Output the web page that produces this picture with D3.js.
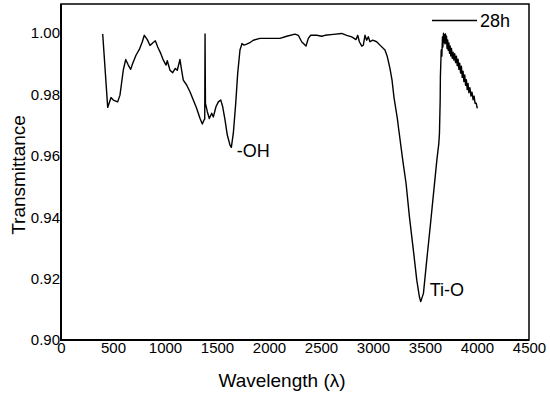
<!DOCTYPE html>
<html>
<head>
<meta charset="utf-8">
<script src="https://cdn.jsdelivr.net/npm/d3@7"></script>
<style>
  body { margin: 0; background: #fff; }
  svg { display: block; font-family: Arial, "Liberation Sans", sans-serif; }
</style>
</head>
<body>
<svg id="chart" width="550" height="394"></svg>
<script>
// wavelength values
const wavelength = [
  401, 449, 481, 503, 545, 567, 599, 622, 647, 670, 689, 721, 753, 782, 801,
  830, 856, 881, 907, 930, 959, 984, 1010, 1022, 1048, 1074, 1099, 1118, 1144,
  1160, 1176, 1208, 1240, 1272, 1304, 1337, 1359, 1375, 1382, 1385, 1389, 1407,
  1426, 1449, 1465, 1490, 1513, 1536, 1555, 1577, 1599, 1625, 1638, 1657, 1680,
  1699, 1721, 1740, 1760, 1785, 1811, 1849, 1913, 2010, 2106, 2170, 2250, 2282,
  2314, 2356, 2378, 2401, 2459, 2507, 2538, 2619, 2699, 2747, 2795, 2837, 2853,
  2869, 2892, 2907, 2923, 2939, 2955, 2971, 2997, 3035, 3067, 3115, 3138, 3163,
  3183, 3202, 3234, 3244, 3286, 3318, 3350, 3388, 3421, 3446, 3459, 3485, 3517,
  3550, 3582, 3614, 3633, 3639, 3646, 3648, 3656, 3662, 3668, 3672, 3678, 3683,
  3688, 3692, 3697, 3702, 3707, 3712, 3718, 3724, 3730, 3736, 3742, 3748, 3755,
  3762, 3770, 3778, 3786, 3794, 3802, 3810, 3818, 3826, 3834, 3842, 3850, 3858,
  3866, 3874, 3882, 3890, 3898, 3906, 3914, 3922, 3932, 3942, 3952, 3962, 3972,
  3982, 3992, 4003
];
const transmittance = [
  0.9997, 0.9758, 0.9790, 0.9782, 0.9776, 0.9798, 0.9880, 0.9914, 0.9896, 0.9882,
  0.9901, 0.9928, 0.9947, 0.9972, 0.9993, 0.9979, 0.9960, 0.9968, 0.9975, 0.9955,
  0.9934, 0.9912, 0.9896, 0.9910, 0.9879, 0.9871, 0.9885, 0.9879, 0.9914, 0.9879,
  0.9847, 0.9831, 0.9809, 0.9782, 0.9755, 0.9722, 0.9704, 0.9717, 0.9720, 0.9997,
  0.9771, 0.9744, 0.9722, 0.9739, 0.9727, 0.9760, 0.9776, 0.9782, 0.9760, 0.9717,
  0.9668, 0.9635, 0.9628, 0.9674, 0.9771, 0.9869, 0.9945, 0.9966, 0.9961, 0.9964,
  0.9968, 0.9977, 0.9983, 0.9983, 0.9983, 0.9990, 0.9997, 0.9993, 0.9972, 0.9958,
  0.9983, 0.9993, 0.9993, 0.9990, 0.9993, 0.9996, 0.9999, 0.9993, 0.9988, 0.9979,
  0.9993, 0.9972, 0.9958, 0.9961, 0.9993, 0.9977, 0.9988, 0.9972, 0.9977, 0.9972,
  0.9961, 0.9945, 0.9923, 0.9885, 0.9847, 0.9790, 0.9722, 0.9695, 0.9586, 0.9510,
  0.9402, 0.9293, 0.9195, 0.9141, 0.9125, 0.9152, 0.9261, 0.9369, 0.9478, 0.9586,
  0.9641, 0.9674, 0.9782, 0.9858, 0.9945, 0.9925, 0.9988, 0.9955, 1.0000, 0.9970,
  0.9995, 0.9965, 0.9997, 0.9968, 0.9990, 0.9950, 0.9978, 0.9944, 0.9968, 0.9934,
  0.9958, 0.9926, 0.9950, 0.9918, 0.9938, 0.9912, 0.9933, 0.9904, 0.9925, 0.9894,
  0.9915, 0.9882, 0.9902, 0.9870, 0.9892, 0.9856, 0.9876, 0.9842, 0.9864, 0.9830,
  0.9848, 0.9816, 0.9836, 0.9806, 0.9822, 0.9795, 0.9808, 0.9783, 0.9795, 0.9771,
  0.9772, 0.9755
];
const xTicks = [0, 500, 1000, 1500, 2000, 2500, 3000, 3500, 4000, 4500];
const yTicks = [0.90, 0.92, 0.94, 0.96, 0.98, 1.00];
const peakLabels = [
  { text: "-OH", x: 1690, y: 0.9595 },
  { text: "Ti-O", x: 3545, y: 0.9145 }
];
const seriesName = "28h";

const svg = d3.select("#chart");
const margin = { top: 4, right: 21, bottom: 54, left: 61 };
const width = 550, height = 394;

const x = d3.scaleLinear().domain([0, 4500]).range([margin.left, width - margin.right]);
const y = d3.scaleLinear().domain([0.90, 1.0095]).range([height - margin.bottom, margin.top]);

const data = wavelength.map((w, i) => ({ w: w, t: transmittance[i] }));

// x axis labels (no tick marks)
const gx = svg.append("g")
  .attr("transform", `translate(0, ${height - margin.bottom})`)
  .call(d3.axisBottom(x).tickValues(xTicks).tickSize(0).tickPadding(2).tickFormat(d3.format("d")));
gx.select(".domain").remove();
gx.selectAll("text").attr("font-size", 15).attr("fill", "#000").attr("font-family", null);

// y axis labels
const gy = svg.append("g")
  .attr("transform", `translate(${margin.left}, 0)`)
  .call(d3.axisLeft(y).tickValues(yTicks).tickSize(0).tickPadding(1).tickFormat(d3.format(".2f")));
gy.select(".domain").remove();
gy.selectAll("text").attr("font-size", 15).attr("fill", "#000").attr("font-family", null);

// frame
svg.append("rect")
  .attr("x", x(0)).attr("y", y(1.0095))
  .attr("width", x(4500) - x(0)).attr("height", y(0.90) - y(1.0095))
  .attr("fill", "none").attr("stroke", "#000").attr("stroke-width", 1.5);
svg.append("path")
  .attr("d", `M${x(0)},${y(1.0095)}V${y(0.90)}H${x(4500)}`)
  .attr("fill", "none").attr("stroke", "#000").attr("stroke-width", 2);

// spectrum
const line = d3.line().x(d => x(d.w)).y(d => y(d.t));
svg.append("path")
  .datum(data)
  .attr("d", line)
  .attr("fill", "none")
  .attr("stroke", "#000")
  .attr("stroke-width", 1.4)
  .attr("stroke-linejoin", "round");

// peak labels
svg.selectAll(".peak")
  .data(peakLabels)
  .enter()
  .append("text")
  .attr("class", "peak")
  .attr("x", d => x(d.x))
  .attr("y", d => y(d.y))
  .attr("font-size", 18)
  .text(d => d.text);

// legend
svg.append("line")
  .attr("x1", 432).attr("x2", 477)
  .attr("y1", 20.5).attr("y2", 20.5)
  .attr("stroke", "#000").attr("stroke-width", 1.5);
svg.append("text")
  .attr("x", 480).attr("y", 27)
  .attr("font-size", 18)
  .text(seriesName);

// axis titles
svg.append("text")
  .attr("x", 282).attr("y", 387)
  .attr("text-anchor", "middle")
  .attr("font-size", 19)
  .text("Wavelength (\u03bb)");

svg.append("text")
  .attr("transform", "translate(25, 175) rotate(-90)")
  .attr("text-anchor", "middle")
  .attr("font-size", 19)
  .text("Transmittance");
</script>
</body>
</html>
